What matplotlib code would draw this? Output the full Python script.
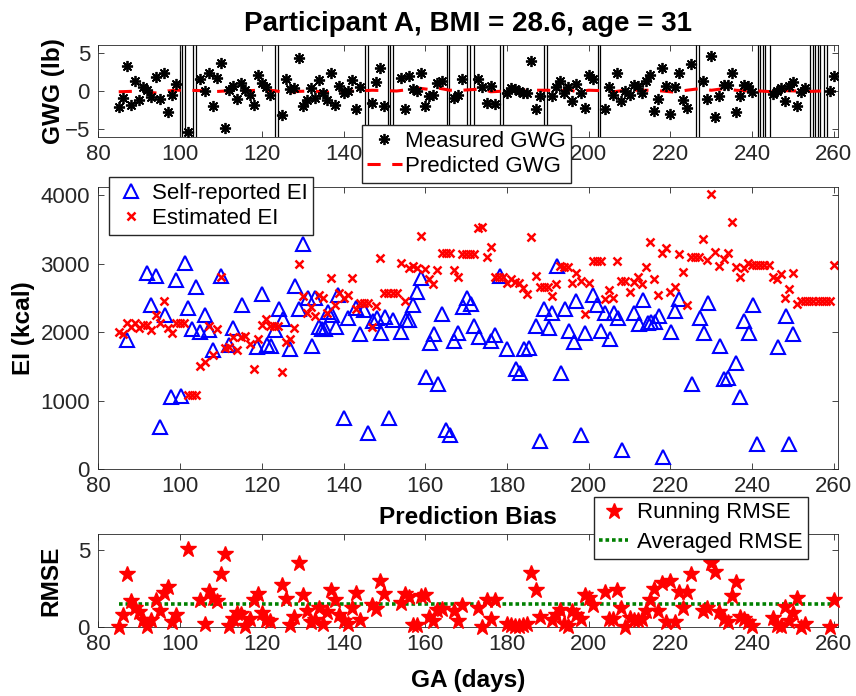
import matplotlib
matplotlib.use("Agg")
import matplotlib.pyplot as plt

# ---- GWG panel (measured days shared with the RMSE panel) ----
gwg_days = [85, 86, 87, 88, 89, 90, 91, 92, 93, 94, 95, 96, 97, 98, 99,
            102,
            105, 106, 107, 108, 109, 110, 111, 112, 113, 114, 115, 116, 117, 118, 119, 120, 121, 122,
            125, 126, 127, 128, 129, 130, 131, 132, 133, 134, 135, 136, 137, 138, 139, 140, 141, 142, 143, 144,
            147, 148, 149, 150,
            154, 155, 156, 157, 158, 159, 160, 161, 162, 163, 164,
            167, 168, 169,
            173, 174, 175, 176, 177,
            180, 181, 182, 183, 184, 185, 186, 187, 188,
            191, 192, 193, 194, 195, 196, 197, 198, 199, 200, 201,
            204, 205, 206, 207, 208, 209, 210, 211, 212, 213, 214, 215, 216, 217, 218, 219, 220, 221, 222, 223, 224, 225,
            228, 229, 230, 231, 232, 233, 234, 235, 236, 237, 238, 239, 240,
            245, 246, 247, 248, 249, 250, 251, 252, 253,
            259, 260]
gwg_measured = [-2.1, -0.9, 3.3, -1.8, 1.3, -1.2, 0.55, 0.1, -0.8, 1.8, -1.1, 2.4, -2.7, -0.5, 0.85,
                -5.4,
                1.6, 0.05, 2.35, -2.0, 1.75, 3.6, -4.8, 0.1, 0.6, -1.0, 1.0, 0.1, -0.5, -1.8, 2.1, 1.0, 0.55, -0.5,
                -3.1, 1.6, 0.2, 0.35, 4.3, -2.0, -1.2, 0.35, -0.9, 1.4, -0.2, -1.2, 2.3, -1.8, 0.65, -0.3, 0.05, 1.4, -2.35, 0.5,
                -1.6, 1.2, 3.0, -2.0,
                1.75, -2.3, 2.0, 0.2, 0.05, 2.35, -1.9, -0.65, -0.5, 1.0, 1.3,
                -0.95, -0.5, 1.55,
                1.55, 0.55, -1.6, 0.65, -1.7,
                -0.3, 0.4, 0.2, 0.05, -0.2, -0.3, 3.85, -2.3, -0.7,
                -0.65, 0.55, 1.3, -0.2, 0.55, -1.25, 0.9, -0.3, -2.2, 2.05, 1.55,
                -2.35, 0.55, -0.5, 2.4, -1.35, 0.05, -0.5, 0.8, 0.7, -0.3, 1.3, 2.05, -2.55, -1.1, 3.0, 0.7, -3.0, 0.55, 2.4, -1.15, -2.2, 3.55,
                1.3, -1.1, 4.6, -3.4, -0.7, 0.75, 0.75, 2.35, -2.75, -0.65, 0.75, 0.7, -0.1,
                -0.4, 0.05, 0.4, -1.3, 0.65, 1.2, -1.9, -0.1, 0.35,
                0.0, 2.0]

pred_days = [85, 88, 91, 93, 95, 97, 99, 102, 105, 108, 111, 114, 117, 120, 123, 126, 129, 132, 135, 138,
             141, 144, 147, 150, 153, 156, 158, 161, 163, 166, 169, 172, 174, 176, 178, 181, 184, 187, 190,
             193, 195, 197, 200, 203, 206, 209, 212, 215, 218, 221, 224, 227, 230, 233, 236, 239, 242, 245,
             248, 251, 254, 257, 260]
gwg_predicted = [-0.1, -0.05, 0.0, -0.2, -0.3, 0.0, 0.1, 0.1, 0.05, -0.1, 0.0, 0.0, 0.05, 0.1, 0.05, -0.2,
                 -0.05, 0.0, -0.1, -0.2, 0.0, 0.0, 0.1, 0.05, 0.0, 0.2, 0.4, 0.2, 0.4, 0.1, 0.1, 0.2, 0.3,
                 -0.1, -0.05, 0.1, 0.1, 0.1, 0.1, 0.0, 0.2, -0.1, 0.1, 0.05, -0.1, 0.1, 0.1, 0.1, 0.0, -0.15,
                 0.1, 0.3, 0.1, 0.3, 0.1, 0.0, 0.0, -0.1, 0.05, 0.0, -0.05, 0.0, 0.0]

# days without a weight measurement (vertical markers)
gap_days = [100.0, 100.5, 101.2, 103.2, 103.9, 123.3, 123.9, 145.3, 145.9, 151.0, 151.4, 152.2,
            165.3, 165.9, 170.3, 171.0, 172.0, 178.3, 179.0, 189.1, 189.9, 202.3, 202.8, 226.2,
            227.0, 241.4, 242.0, 242.6, 243.2, 244.3, 254.2, 254.8, 255.4, 256.1, 256.7, 257.5, 258.3]

# ---- EI panel ----
sr_days = [87.1, 91.8, 92.9, 94.1, 95.1, 96.2, 97.8, 99.0, 100.2, 101.2, 102.0, 102.9, 103.9, 104.9,
           106.0, 107.2, 108.0, 110.0, 112.0, 113.0, 115.1, 118.8, 120.0, 121.2, 122.2, 123.3, 124.1,
           125.3, 126.9, 128.2, 129.1, 130.2, 131.2, 132.2, 133.0, 133.9, 134.7, 135.5, 136.3, 137.1,
           138.2, 138.7, 140.0, 141.1, 143.1, 144.1, 145.1, 146.1, 147.2, 148.2, 149.1, 150.2, 151.2,
           152.2, 154.1, 155.3, 156.1, 157.1, 158.1, 159.0, 160.1, 161.2, 162.2, 163.1, 164.2, 165.1,
           166.1, 167.1, 168.1, 169.2, 170.2, 171.2, 172.0, 173.2, 176.1, 177.1, 178.2, 180.1, 182.3,
           183.1, 184.2, 185.3, 187.1, 188.1, 189.1, 190.2, 191.1, 192.2, 193.2, 194.3, 195.1, 196.3,
           196.9, 198.0, 199.1, 201.0, 202.0, 203.1, 204.0, 205.1, 206.1, 207.1, 208.1, 211.1, 212.2,
           213.2, 214.4, 215.3, 216.3, 217.3, 218.2, 220.2, 221.2, 222.2, 225.3, 227.2, 228.1, 229.2,
           232.2, 233.2, 234.2, 236.1, 237.1, 238.1, 239.1, 240.1, 241.2, 246.2, 248.3, 249.1, 250.1]
sr_ei = [1883, 2857, 2394, 2818, 618, 2248, 1056, 2759, 1066, 3003, 2346, 2044, 2653, 2005,
         2248, 2029, 1737, 2818, 1810, 2054, 2394, 1786, 2555, 1810, 1800, 2029, 2332,
         2186, 1748, 2672, 2332, 3281, 2492, 1796, 2492, 2078, 2040, 2044, 2297, 2248,
         2078, 2540, 740, 2200, 2346, 1971, 2321, 521, 2165, 2200, 1981, 2224, 740,
         2175, 1995, 2175, 2175, 2394, 2589, 2793, 1348, 1835, 1966, 1241, 2263, 569,
         496, 1869, 1981, 2370, 2492, 2409, 2092, 1932, 1869, 1956, 2818, 1752, 1456,
         1406, 1752, 1771, 2092, 413, 2336, 2054, 2273, 2964, 1397, 2336, 2019, 1850,
         2457, 500, 1981, 2540, 2394, 2015, 2273, 1894, 2282, 2200, 277, 2282, 2117,
         2467, 2136, 2151, 2151, 2234, 180, 2005, 2311, 2478, 1241, 2200, 1981, 2428,
         1796, 1310, 1324, 1552, 1047, 2161, 1990, 2394, 365, 1776, 2234, 365, 1971]

est_days = [85, 86, 87, 88, 89, 90, 91, 92, 93, 94, 95, 96, 97, 98, 99, 100, 101, 102, 103, 104,
            105, 106, 107, 108, 109, 110, 111, 112, 113, 114, 115, 116, 117, 118, 119, 120, 121, 122,
            123, 124, 125, 126, 127, 128, 129, 130, 131, 132, 133, 134, 135, 136, 137, 138, 139, 140,
            141, 142, 143, 144, 145, 146, 147, 148, 149, 150, 151, 152, 153, 154, 155, 156, 157, 158,
            159, 160, 161, 162, 163, 164, 165, 166, 167, 168, 169, 170, 171, 172, 173, 174, 175, 176,
            177, 178, 179, 180, 181, 182, 183, 184, 185, 186, 187, 188, 189, 190, 191, 192, 193, 194,
            195, 196, 197, 198, 199, 200, 201, 202, 203, 204, 205, 206, 207, 208, 209, 210, 211, 212,
            213, 214, 215, 216, 217, 218, 219, 220, 221, 222, 223, 224, 225, 226, 227, 228, 229, 230,
            231, 232, 233, 234, 235, 236, 237, 238, 239, 240, 241, 242, 243, 244, 245, 246, 247, 248,
            249, 250, 251, 252, 253, 254, 255, 256, 257, 258, 259, 260]
est_ei = [2005, 1971, 2127, 2078, 2127, 2054, 2102, 2102, 2029, 2248, 2127, 2457, 2054, 1990, 2136, 2136, 2136, 1080, 1080, 1080,
          1504, 1567, 2088, 1664, 2044, 2808, 1762, 1786, 1932, 1737, 1932, 1946, 1825, 1460, 1894, 2102, 2186, 2092,
          2092, 2092, 1421, 1859, 1894, 2064, 2989, 2526, 2282, 2370, 2234, 2540, 2492, 2282, 2793, 2394, 2565, 2492,
          2540, 2793, 2332, 2419, 2419, 2419, 2078, 2380, 3076, 2574, 2574, 2574, 2574, 3012, 2457, 2930, 2964, 2930,
          3406, 2916, 2770, 2697, 2905, 3158, 3158, 3158, 2905, 2799, 3139, 3139, 3139, 3139, 3514, 3538, 3100, 3237,
          2799, 2799, 2799, 2720, 2774, 2735, 2711, 2638, 2555, 3383, 2818, 2653, 2653, 2653, 2526, 2697, 2964, 2954,
          2954, 2720, 2857, 2745, 2263, 2720, 3041, 3041, 3041, 2478, 2613, 2492, 3041, 2749, 2745, 2589, 2735, 2808,
          2697, 2945, 3310, 2770, 2540, 3158, 3222, 2589, 2662, 3139, 2872, 2394, 3100, 3100, 3100, 3353, 3051, 4015,
          3173, 2964, 3066, 3158, 3602, 2945, 2799, 2930, 3003, 2978, 2978, 2978, 2978, 2978, 2808, 2770, 2843, 2501,
          2624, 2857, 2409, 2457, 2457, 2457, 2457, 2457, 2457, 2457, 2457, 2978]

# ---- RMSE panel ----
running_rmse = [0.0, 0.75, 3.4, 1.7, 1.25, 0.97, 0.43, 0.05, 0.48, 1.72, 1.03, 2.2, 2.58, 0.32, 0.8,
                5.06,
                1.77, 0.22, 2.3, 1.9, 1.68, 3.4, 4.68, 0.05, 0.54, 0.9, 0.86, 0.05, 0.54, 1.72, 2.1, 0.9, 0.43, 0.39,
                2.74, 1.79, 0.11, 0.65, 4.1, 2.05, 1.03, 0.32, 0.43, 1.25, 0.17, 0.97, 2.37, 1.72, 0.75, 0.37, 0.17, 1.25, 2.2, 0.43,
                1.4, 1.19, 2.97, 2.1,
                1.55, 2.1, 1.94, 0.15, 0.15, 1.98, 2.05, 0.65, 0.37, 1.08, 1.19,
                1.03, 0.39, 1.4,
                1.25, 0.0, 1.72, 0.54, 1.77,
                0.17, 0.11, 0.05, 0.05, 0.11, 0.22, 3.49, 2.37, 0.65,
                0.48, 0.75, 1.08, 0.17, 0.05, 1.03, 0.75, 0.54, 2.05, 1.9, 1.4,
                2.26, 0.54, 0.54, 2.37, 1.25, 0.0, 0.6, 0.43, 0.48, 0.54, 1.03, 1.72, 2.48, 1.03, 2.84, 0.32, 2.97, 0.32, 2.26, 1.25, 2.26, 3.4,
                1.03, 1.25, 4.1, 3.55, 0.97, 0.54, 0.32, 1.98, 2.9, 0.65, 0.54, 0.32, 0.05,
                0.6, 0.11, 0.05, 1.29, 0.39, 0.9, 1.9, 0.0, 0.22,
                0.0, 1.77]
averaged_rmse = 1.47

x_ticks = [80, 100, 120, 140, 160, 180, 200, 220, 240, 260]

INK = "#262626"
plt.rcParams.update({
    "font.family": ["Liberation Sans", "DejaVu Sans"],
    "font.size": 16,
    "axes.linewidth": 0.6,
    "axes.edgecolor": INK,
    "axes.labelcolor": "black",
    "xtick.color": INK, "ytick.color": INK,
    "xtick.direction": "in", "ytick.direction": "in",
    "xtick.top": True, "ytick.right": True,
    "xtick.major.size": 4, "ytick.major.size": 4,
    "xtick.major.width": 0.6, "ytick.major.width": 0.6,
    "xtick.major.pad": 5, "ytick.major.pad": 6,
})

W, H = 856, 696
fig = plt.figure(figsize=(W / 100, H / 100), dpi=100)


def box(l, t, r, b):
    return [l / W, 1 - b / H, (r - l) / W, (b - t) / H]


ax1 = fig.add_axes(box(98.3, 45, 838, 137))
ax2 = fig.add_axes(box(98.3, 187, 838, 469))
ax3 = fig.add_axes(box(98.3, 534, 838, 627))

lab = dict(fontsize=17.6, fontweight="bold")
leg_kw = dict(fontsize=16, fancybox=False, framealpha=1, edgecolor=INK,
              borderaxespad=0, borderpad=0.25)

# top: gestational weight gain
for g in gap_days:
    ax1.axvline(g, color="k", lw=0.9, zorder=1)
ax1.plot(gwg_days, gwg_measured, ls="none", marker=(8, 2, 0), ms=8, mec="k", mew=1.3,
         label="Measured GWG", zorder=3)
ax1.plot(pred_days, gwg_predicted, color="r", lw=2.2, dashes=(4.3, 3.8),
         label="Predicted GWG", zorder=2)
ax1.set_xlim(80, 261)
ax1.set_ylim(-6, 6)
ax1.set_xticks(x_ticks)
ax1.set_yticks([-5, 0, 5])
ax1.set_ylabel("GWG (lb)", labelpad=0, **lab)
ax1.set_title("Participant A, BMI = 28.6, age = 31", fontsize=20, fontweight="bold", pad=10)
ax1.legend(loc="upper left", bbox_to_anchor=(0.356, 0.13), handlelength=1.55,
           handletextpad=0.15, labelspacing=0.2, **leg_kw)

# middle: energy intake
ax2.plot(sr_days, sr_ei, ls="none", marker="^", ms=10.5, mfc="none", mec="b", mew=1.5,
         label="Self-reported EI")
ax2.plot(est_days, est_ei, ls="none", marker="x", ms=6, mec="r", mew=1.8,
         label="Estimated EI")
ax2.set_xlim(80, 261)
ax2.set_ylim(0, 4120)
ax2.set_xticks(x_ticks)
ax2.set_yticks([0, 1000, 2000, 3000, 4000])
ax2.set_ylabel("EI (kcal)", labelpad=4, **lab)
ax2.legend(loc="upper left", bbox_to_anchor=(0.015, 1.035), handlelength=1.4,
           handletextpad=0.25, labelspacing=0.2, **leg_kw)

# bottom: prediction bias
ax3.plot(gwg_days, running_rmse, ls="none", marker="*", ms=12, color="r", clip_on=False,
         label="Running RMSE", zorder=3)
ax3.plot([gwg_days[0], gwg_days[-1]], [averaged_rmse, averaged_rmse], color="#008000",
         lw=2.6, dashes=(1, 0.8), label="Averaged RMSE", zorder=2)
ax3.set_xlim(80, 261)
ax3.set_ylim(0, 6)
ax3.set_xticks(x_ticks)
ax3.set_yticks([0, 5])
ax3.set_ylabel("RMSE", labelpad=11, **lab)
ax3.set_xlabel("GA (days)", labelpad=10, **lab)
ax3.set_title("Prediction Bias", pad=7, **lab)
ax3.legend(loc="upper left", bbox_to_anchor=(0.670, 1.40), handlelength=1.3,
           handletextpad=0.37, labelspacing=0.4, **leg_kw)

fig.savefig("out.png", dpi=100)
